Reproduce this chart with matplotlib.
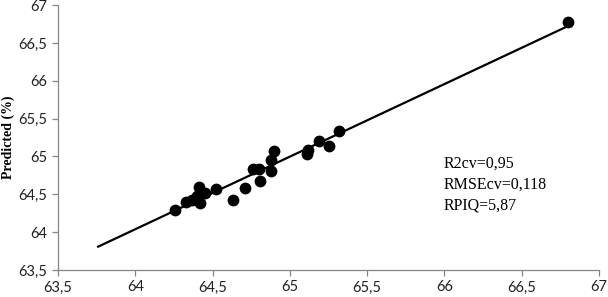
import numpy as np
import matplotlib
matplotlib.use("Agg")
import matplotlib.pyplot as plt
from matplotlib.ticker import FuncFormatter, MultipleLocator

# ── Data ──
measured = [64.26, 64.33, 64.37, 64.41, 64.42, 64.40, 64.45, 64.52, 64.63, 64.71,
            64.76, 64.80, 64.81, 64.88, 64.88, 64.90, 65.11, 65.12, 65.19, 65.25,
            65.32, 66.80]
predicted = [64.29, 64.40, 64.42, 64.60, 64.38, 64.48, 64.52, 64.57, 64.43, 64.58,
             64.84, 64.83, 64.67, 64.81, 64.95, 65.07, 65.03, 65.09, 65.21, 65.14,
             65.33, 66.78]
fit_range = [63.76, 66.80]
stats_text = "R2cv=0,95\nRMSEcv=0,118\nRPIQ=5,87"

fig = plt.figure(figsize=(6.08, 2.97), dpi=100)
ax = fig.add_axes([0.0954, 0.0909, 0.8898, 0.892])

# ── Regression line ──
b, a = np.polyfit(measured, predicted, 1)
xl = np.array(fit_range)
ax.plot(xl, a + b * xl, color="black", lw=1.6, zorder=2)

ax.scatter(measured, predicted, s=72, color="black", zorder=3, linewidths=0)

ax.set_xlim(63.5, 67)
ax.set_ylim(63.5, 67)
ax.xaxis.set_major_locator(MultipleLocator(0.5))
ax.yaxis.set_major_locator(MultipleLocator(0.5))
fmt = FuncFormatter(lambda v, p: f"{v:g}".replace(".", ","))
ax.xaxis.set_major_formatter(fmt)
ax.yaxis.set_major_formatter(fmt)

for s in ["top", "right"]:
    ax.spines[s].set_visible(False)
for s in ["left", "bottom"]:
    ax.spines[s].set_color("#868686")
    ax.spines[s].set_linewidth(0.9)
ax.tick_params(direction="out", length=4, color="#868686", width=0.9,
               labelsize=10.5, labelcolor="#222222")
for lab in ax.get_xticklabels() + ax.get_yticklabels():
    lab.set_family("Lato")

ax.set_ylabel("Predicted (%)", family="Liberation Serif", fontweight="bold",
              fontsize=10)
ax.yaxis.set_label_coords(-0.079, 0.5)

ax.text(0.712, 0.432, stats_text, transform=ax.transAxes, va="top", ha="left",
        family="Liberation Serif", fontsize=11.5, linespacing=1.4)

fig.savefig("out.png", dpi=100)
